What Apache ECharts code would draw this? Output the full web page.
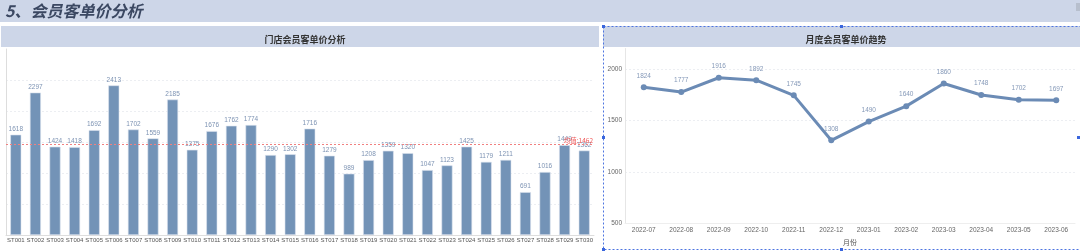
<!DOCTYPE html>
<html><head><meta charset="utf-8">
<script src="https://cdn.jsdelivr.net/npm/echarts@6/dist/echarts.min.js"></script>
<style>html,body{margin:0;padding:0;background:#fff}#c{width:1080px;height:251px}</style>
</head><body><div id="c"></div>
<script>
const stores = ['ST001','ST002','ST003','ST004','ST005','ST006','ST007','ST008','ST009','ST010','ST011','ST012','ST013','ST014','ST015','ST016','ST017','ST018','ST019','ST020','ST021','ST022','ST023','ST024','ST025','ST026','ST027','ST028','ST029','ST030'];
const storeValues = [1618,2297,1424,1418,1692,2413,1702,1559,2185,1375,1676,1762,1774,1290,1302,1716,1279,989,1208,1359,1320,1047,1123,1425,1179,1211,691,1016,1449,1362];
const avgValue = 1462;
const months = ['2022-07','2022-08','2022-09','2022-10','2022-11','2022-12','2023-01','2023-02','2023-03','2023-04','2023-05','2023-06'];
const monthValues = [1824,1777,1916,1892,1745,1308,1490,1640,1860,1748,1702,1697];

const chart = echarts.init(document.getElementById('c'));
const fam = '"Noto Sans CJK SC","Noto Sans",sans-serif';
const nar = '"Liberation Sans",Arial,sans-serif';
const option = {
  animation: false,
  textStyle: {fontFamily: fam},
  graphic: [
    {type:'rect', shape:{x:0,y:0,width:1080,height:22}, style:{fill:'#cdd6e8'}, z:-1},
    {type:'rect', shape:{x:1076,y:3,width:4,height:8}, style:{fill:'#b7bfcd'}, z:0},
    {type:'text', left:5, top:3, style:{text:'5、会员客单价分析', font:'italic bold 16px ' + fam, fill:'#3b4862'}},
    {type:'rect', shape:{x:1,y:26,width:598,height:21}, style:{fill:'#cdd6e8'}, z:-1},
    {type:'rect', shape:{x:603,y:26,width:477,height:21}, style:{fill:'#cdd6e8'}, z:-1},
    {type:'rect', shape:{x:603.5,y:26.5,width:480,height:223}, style:{fill:null, stroke:'#4d74e0', lineWidth:1, lineDash:[2,2]}, z:10},
    {type:'rect', shape:{x:602,y:25,width:3,height:3}, style:{fill:'#3a66dd'}, z:11},
    {type:'rect', shape:{x:840,y:25,width:3,height:3}, style:{fill:'#3a66dd'}, z:11},
    {type:'rect', shape:{x:602,y:136,width:3,height:3}, style:{fill:'#3a66dd'}, z:11},
    {type:'rect', shape:{x:1077,y:136,width:3,height:3}, style:{fill:'#3a66dd'}, z:11},
    {type:'rect', shape:{x:602,y:248,width:3,height:3}, style:{fill:'#3a66dd'}, z:11},
    {type:'rect', shape:{x:840,y:248,width:3,height:3}, style:{fill:'#3a66dd'}, z:11}
  ],
  title: [
    {text:'门店会员客单价分析', left:300, top:30, textAlign:'center', textStyle:{fontSize:9, fontWeight:'bold', color:'#333', fontFamily:fam}},
    {text:'月度会员客单价趋势', left:841, top:30, textAlign:'center', textStyle:{fontSize:9, fontWeight:'bold', color:'#333', fontFamily:fam}}
  ],
  grid: [
    {left:6, right:486, top:49, bottom:16},
    {left:625, right:5, top:48.5, bottom:27.5}
  ],
  xAxis: [
    {type:'category', gridIndex:0, data:stores,
     axisLine:{lineStyle:{color:'#ddd'}}, axisTick:{show:false},
     axisLabel:{fontSize:6, fontFamily:nar, color:'#555', margin:2, interval:0}},
    {type:'category', gridIndex:1, data:months, name:'月份', nameLocation:'middle', nameGap:14,
     nameTextStyle:{fontSize:7, color:'#555'},
     axisLine:{lineStyle:{color:'#eee'}}, axisTick:{show:false},
     axisLabel:{fontSize:6.5, fontFamily:nar, color:'#666', margin:3, interval:0}}
  ],
  yAxis: [
    {type:'value', gridIndex:0, min:0, max:3000, interval:500,
     axisLine:{show:true, lineStyle:{color:'#ddd'}}, axisTick:{show:false}, axisLabel:{show:false},
     splitLine:{show:true, showMaxLine:false, showMinLine:false, lineStyle:{color:'#eceef2', type:[2,2]}}},
    {type:'value', gridIndex:1, min:500, max:2200, interval:500,
     axisLine:{show:true, lineStyle:{color:'#e6e6e6'}}, axisTick:{show:false},
     axisLabel:{fontSize:6.5, fontFamily:nar, color:'#666', margin:3, showMaxLabel:false, formatter:v => String(v)},
     splitLine:{show:true, showMaxLine:false, showMinLine:false, lineStyle:{color:'#eceef2', type:[2,2]}}}
  ],
  series: [
    {type:'bar', xAxisIndex:0, yAxisIndex:0, data:storeValues, barWidth:11,
     itemStyle:{color:'#7393b7', borderColor:'#dbe3ee', borderWidth:0.6},
     label:{show:true, position:'top', fontSize:6.5, fontFamily:nar, color:'#7d93b3', distance:2},
     markLine:{silent:true, symbol:'none', data:[{yAxis:avgValue}],
       lineStyle:{color:'#f08080', type:[2,2], width:1},
       label:{show:true, position:'insideEndTop', formatter:'均值:' + avgValue, fontSize:6.5, color:'#f05a5a', distance:[1,1]}}},
    {type:'line', xAxisIndex:1, yAxisIndex:1, data:monthValues,
     symbol:'circle', symbolSize:6,
     lineStyle:{color:'#6b8bb5', width:3}, itemStyle:{color:'#6b8bb5'},
     label:{show:true, position:'top', fontSize:6.5, fontFamily:nar, color:'#8599b8', distance:5}}
  ]
};
chart.setOption(option);
</script></body></html>
